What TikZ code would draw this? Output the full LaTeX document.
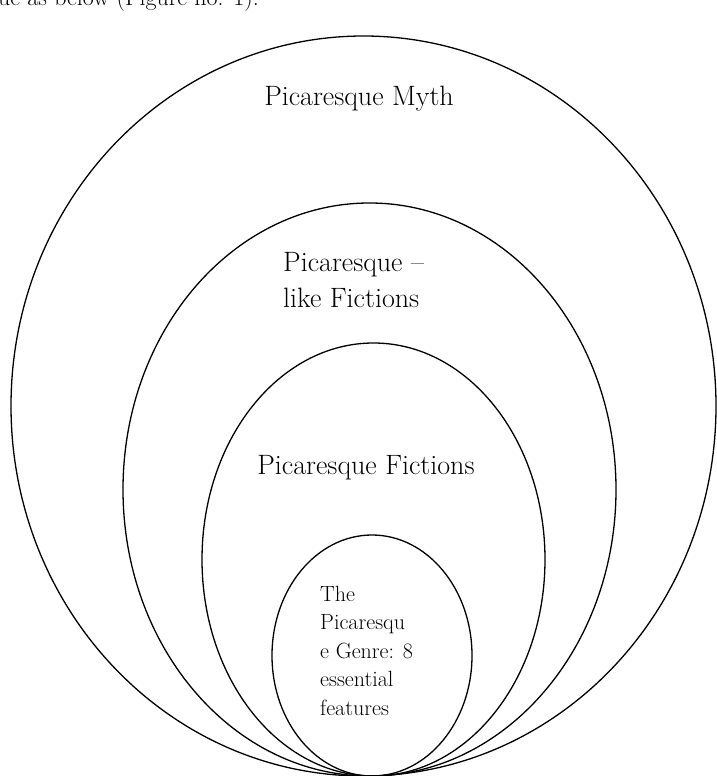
\documentclass[tikz,border=0pt]{standalone}
\begin{document}
\begin{tikzpicture}[x=1pt,y=-1pt,
  ring/.style={draw=black,line width=1.3pt},
  bigtxt/.style={font=\fontsize{28}{36}\selectfont,inner sep=0pt},
  smalltxt/.style={font=\fontsize{22}{28.5}\selectfont,inner sep=0pt,align=left}]
\useasboundingbox (0,0) rectangle (716,776);
\fill[white] (0,0) rectangle (716,776);
% header fragment
\node[anchor=base west,font=\fontsize{24}{29}\selectfont,inner sep=0pt] (hdr) at (-2,6) {ue as below (Figure no. 1).};
% ellipses
\draw[ring] (363.5,406) ellipse [x radius=352.5, y radius=370];
\draw[ring] (369.5,489.5) ellipse [x radius=246.5, y radius=286.5];
\draw[ring] (373.5,559.5) ellipse [x radius=171.5, y radius=216.5];
\draw[ring] (372,655.5) ellipse [x radius=100, y radius=120.5];
% labels
\node[bigtxt,anchor=base] (myth) at (359,105) {Picaresque Myth};
\node[bigtxt,anchor=base west,align=left] (like) at (283,307) {Picaresque --\\like Fictions};
\node[bigtxt,anchor=base] (fict) at (366,474) {Picaresque Fictions};
\node[smalltxt,anchor=base west] (genre) at (320,715) {The\\Picaresqu\\e Genre: 8\\essential\\features};
\end{tikzpicture}
\end{document}
